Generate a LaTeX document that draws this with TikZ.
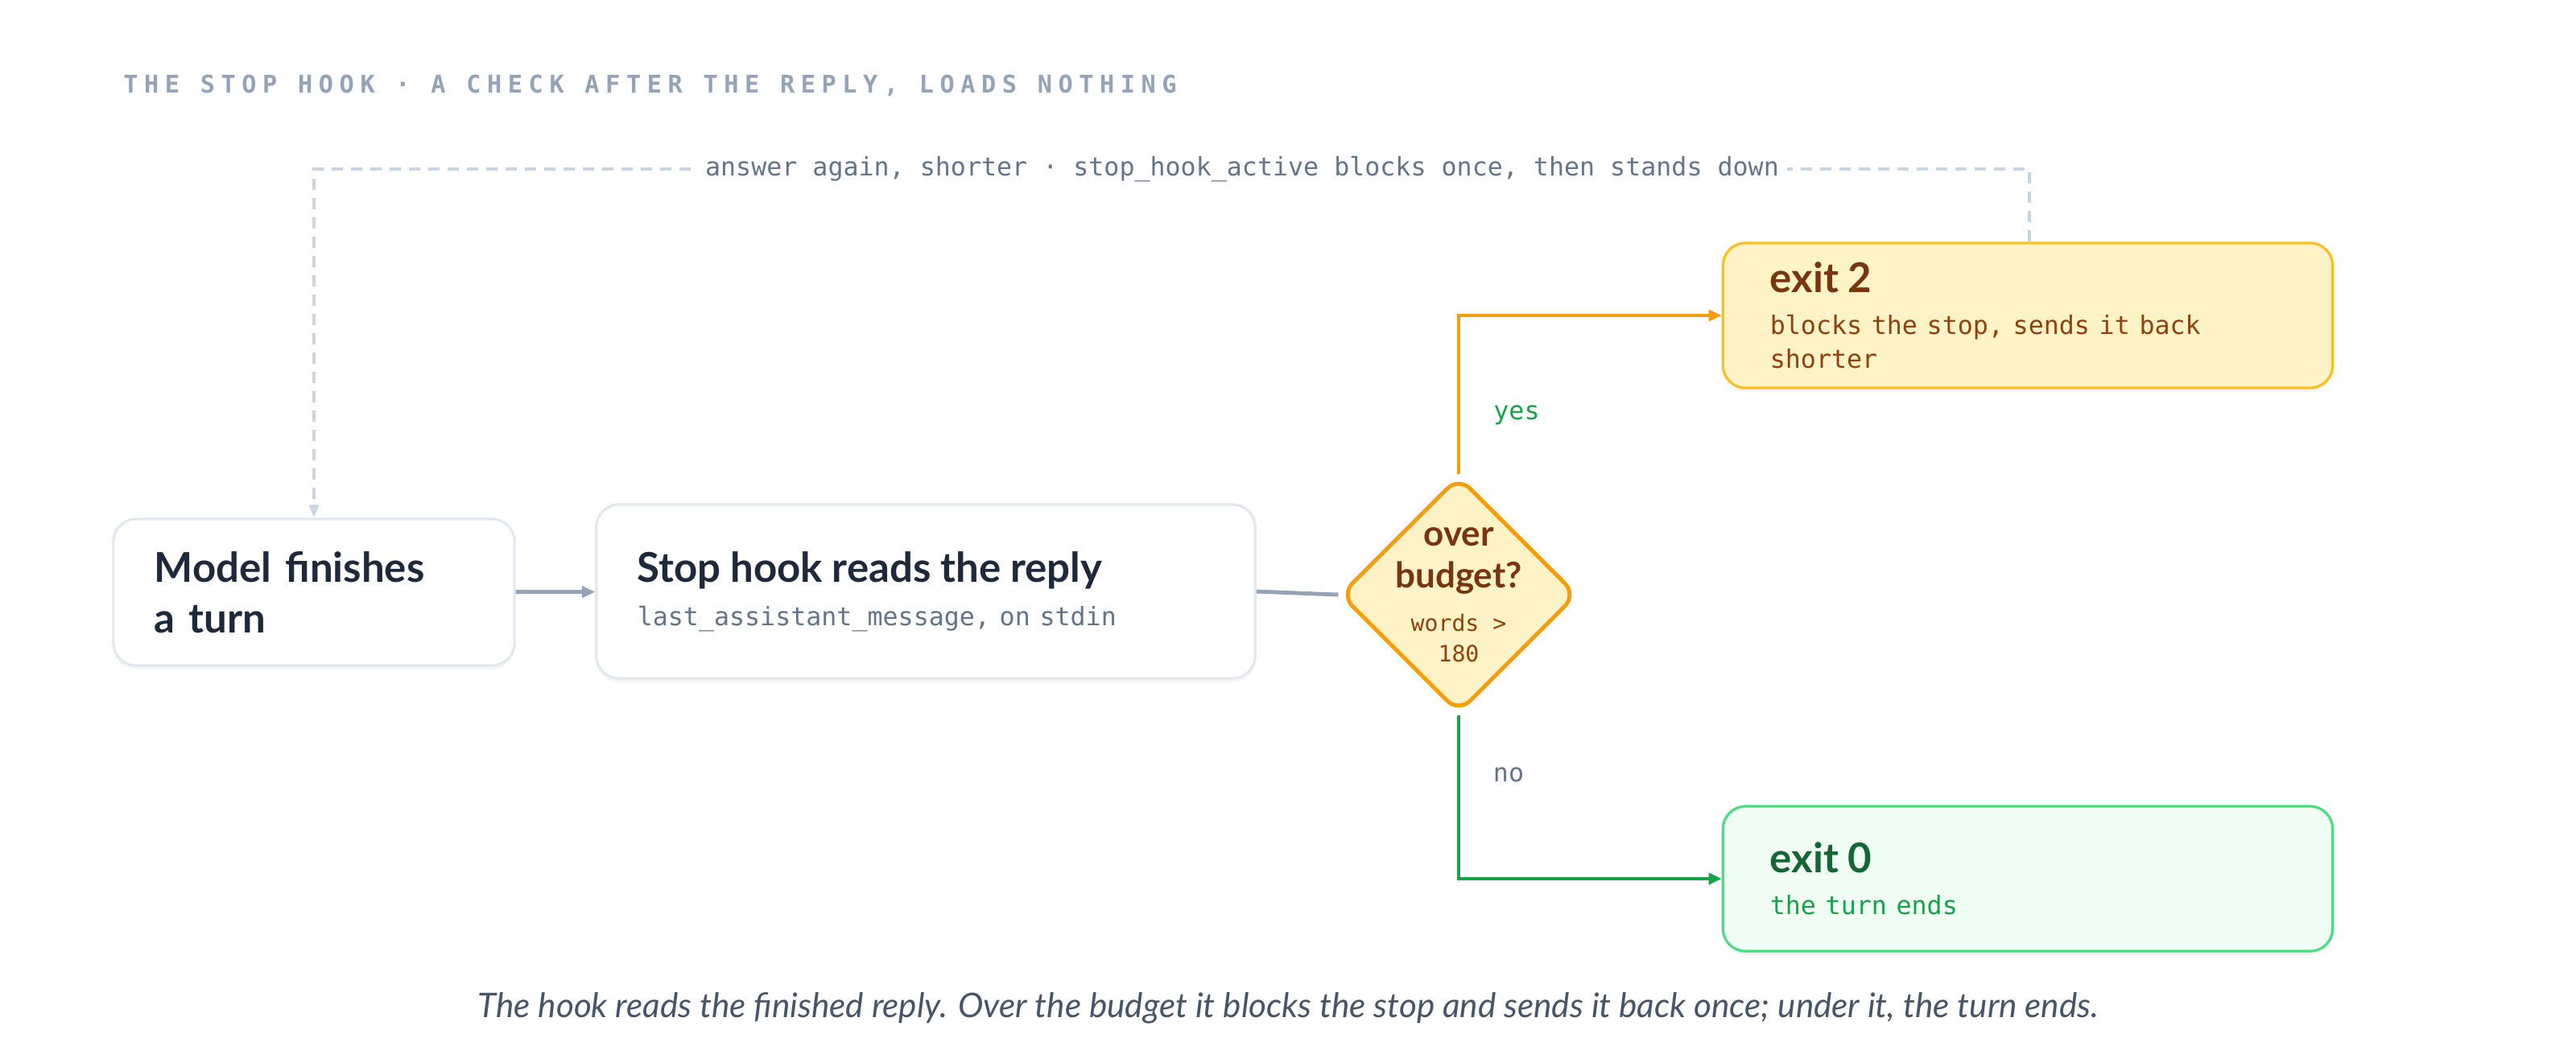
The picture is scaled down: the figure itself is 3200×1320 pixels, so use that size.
\documentclass[tikz,border=0pt]{standalone}
\usepackage{fontspec}
\setmainfont{Lato}
\newfontfamily\monofont{DejaVu Sans Mono}
\usetikzlibrary{positioning}
\usetikzlibrary{arrows.meta}
\usetikzlibrary{shapes.geometric}
\usetikzlibrary{shadows}

\definecolor{inkdark}{HTML}{1E293B}
\definecolor{inkgray}{HTML}{64748B}
\definecolor{inktitle}{HTML}{94A3B8}
\definecolor{boxline}{HTML}{E2E8F0}
\definecolor{arrowgray}{HTML}{94A3B8}
\definecolor{loopgray}{HTML}{CBD5E1}
\definecolor{amberfill}{HTML}{FEF3C7}
\definecolor{amberline}{HTML}{FBBF24}
\definecolor{amberdeep}{HTML}{F59E0B}
\definecolor{browndark}{HTML}{78350F}
\definecolor{brownsoft}{HTML}{92400E}
\definecolor{greenfill}{HTML}{F0FDF4}
\definecolor{greenline}{HTML}{4ADE80}
\definecolor{greendeep}{HTML}{16A34A}
\definecolor{greendark}{HTML}{166534}
\definecolor{captiongray}{HTML}{475569}

\tikzset{
  card/.style={draw=boxline, line width=0.9pt, fill=white, rounded corners=0.28cm,
    drop shadow={shadow xshift=0pt, shadow yshift=-0.05cm, opacity=0.06},
    align=left, inner xsep=0.51cm},
  mono/.style={font=\monofont\fontsize{9}{12}\selectfont},
  flow/.style={line width=1.4pt, -{Triangle[length=0.16cm, width=0.14cm]}},
}

\begin{document}
\begin{tikzpicture}[x=0.01cm, y=-0.01cm]
    \useasboundingbox[fill=white] (0,0) rectangle (3200,1320);
    %% title
    \node[anchor=west, text=inktitle, font=\monofont\bfseries\fontsize{8.6}{10}\selectfont\addfontfeature{LetterSpace=25}]
        (title) at (141,106) {THE STOP HOOK · A CHECK AFTER THE REPLY, LOADS NOTHING};
    %% boxes
    \node[card, minimum width=4.98cm, minimum height=1.82cm, text width=3.96cm,
        font=\fontsize{14.5}{18}\selectfont\bfseries, text=inkdark] (model) at (390,736)
        {Model finishes\\a turn};
    \node[card, minimum width=8.18cm, minimum height=2.16cm, text width=7.16cm] (hook) at (1150,735)
        {{\fontsize{14.5}{18}\selectfont\bfseries\color{inkdark}Stop hook reads the reply}\\[0.12cm]
         {\monofont\fontsize{9}{12}\selectfont\color{inkgray}last\_assistant\_message, on stdin}};
    \node[diamond, aspect=1, draw=amberdeep, fill=amberfill, line width=1.4pt, rounded corners=0.2cm,
        minimum width=2.94cm, minimum height=2.94cm, inner sep=0pt] (budget) at (1812,739) {};
    \node[align=center, text=browndark, font=\fontsize{12.5}{15}\selectfont\bfseries] (budgethead)
        at (1812,697) {over\\budget?};
    \node[align=center, text=brownsoft, font=\monofont\fontsize{8}{11}\selectfont] (budgetrule)
        at (1812,793) {words >\\180};
    \node[card, draw=amberline, fill=amberfill, minimum width=7.57cm, minimum height=1.8cm,
        text width=6.4cm] (exittwo) at (2519,392)
        {{\fontsize{14.5}{18}\selectfont\bfseries\color{browndark}exit 2}\\[0.1cm]
         {\monofont\fontsize{9}{12.5}\selectfont\color{brownsoft}blocks the stop, sends it back shorter}};
    \node[card, draw=greenline, fill=greenfill, minimum width=7.57cm, minimum height=1.8cm,
        text width=6.4cm] (exitzero) at (2519,1092)
        {{\fontsize{14.5}{18}\selectfont\bfseries\color{greendark}exit 0}\\[0.1cm]
         {\monofont\fontsize{9}{12}\selectfont\color{greendeep}the turn ends}};
    %% connectors
    \draw[flow, arrowgray] (model) -- (hook);
    \draw[line width=1.4pt, arrowgray] (hook.east) -- (budget.west);
    \draw[flow, amberdeep] (budget.north) |- (exittwo.west);
    \draw[flow, greendeep] (budget.south) |- (exitzero.west);
    \node[mono, text=greendeep] (yes) at (1884,516) {yes};
    \node[mono, text=inkgray] (no) at (1874,963) {no};
    %% loop back
    \coordinate (loopright) at (2521,210);
    \coordinate (loopleft) at (390,210);
    \draw[loopgray, line width=1.1pt, dash pattern=on 0.14cm off 0.1cm,
        -{Triangle[length=0.16cm, width=0.12cm]}]
        (exittwo.north -| loopright) -- (loopright) -- (loopleft) -- (model.north);
    \node[mono, fill=white, text=inkgray, inner xsep=0.1cm] (looplabel) at (1543,210)
        {answer again, shorter · stop\_hook\_active blocks once, then stands down};
    %% caption
    \node[font=\itshape\fontsize{12}{14}\selectfont, text=captiongray] (caption) at (1600,1253)
        {The hook reads the finished reply. Over the budget it blocks the stop and sends it back once; under it, the turn ends.};
\end{tikzpicture}
\end{document}
